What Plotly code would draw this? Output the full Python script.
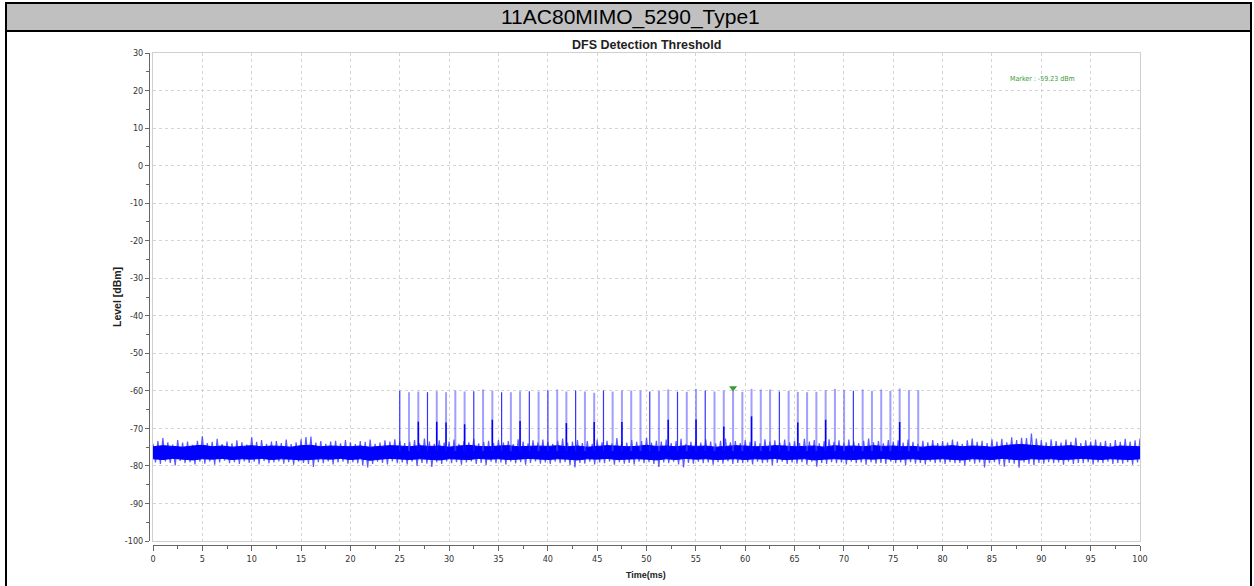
import numpy as np
import plotly.graph_objects as go

# ---------------- data ----------------
chart_title = "11AC80MIMO_5290_Type1"
plot_title = "DFS Detection Threshold"
x_title = "Time(ms)"
y_title = "Level [dBm]"
x_ticks = [0, 5, 10, 15, 20, 25, 30, 35, 40, 45, 50, 55, 60, 65, 70, 75, 80, 85, 90, 95, 100]
y_ticks = [30, 20, 10, 0, -10, -20, -30, -40, -50, -60, -70, -80, -90, -100]

# noise envelope, sampled every 0.5 ms from 0 to 100 ms
noise_hi = [
    -74.1, -73.4, -72.6, -73.7, -74.3, -73.1, -73.8, -73.5, -74.4, -73.3,
    -72.1, -73.9, -73.6, -72.8, -74.2, -73.5, -74.0, -73.2, -73.7, -74.3,
    -72.4, -73.6, -73.1, -74.1, -73.5, -73.4, -73.9, -73.0, -74.2, -73.7,
    -72.9, -72.3, -72.2, -73.8, -73.4, -74.1, -73.5, -73.3, -74.0, -73.1,
    -73.7, -74.2, -73.4, -73.6, -73.0, -74.1, -73.8, -73.2, -73.5, -72.9,
    -73.3, -73.9, -73.6, -73.1, -74.0, -72.7, -73.5, -74.1, -73.2, -73.8,
    -73.5, -73.0, -74.1, -73.4, -73.7, -72.8, -74.0, -73.6, -73.3, -73.9,
    -73.1, -73.8, -73.4, -74.2, -72.9, -73.5, -74.0, -73.2, -73.7, -73.0,
    -73.6, -74.1, -73.3, -72.7, -73.8, -73.5, -73.1, -73.9, -73.4, -74.1,
    -73.0, -73.7, -73.3, -74.0, -72.6, -73.5, -73.8, -73.1, -73.6, -73.4,
    -72.5, -73.8, -73.3, -73.5, -73.0, -73.9, -73.4, -72.8, -74.1, -73.6,
    -73.2, -73.8, -72.9, -73.5, -74.0, -73.3, -72.7, -73.7, -73.4, -73.9,
    -73.1, -73.6, -73.4, -74.0, -72.9, -73.5, -73.2, -73.8, -73.0, -73.7,
    -73.3, -73.9, -72.8, -73.5, -73.1, -74.0, -73.4, -72.9, -73.6, -73.2,
    -73.8, -73.0, -73.5, -73.9, -73.3, -72.7, -73.7, -73.4, -74.0, -73.1,
    -73.5, -73.2, -73.8, -73.0, -73.6, -74.1, -73.3, -73.7, -73.1, -73.9,
    -73.4, -73.8, -73.0, -73.5, -74.1, -73.2, -72.7, -73.6, -73.3, -73.9,
    -72.9, -73.5, -72.8, -73.7, -72.4, -73.1, -72.5, -72.6, -71.4, -72.7,
    -73.1, -73.7, -72.9, -73.4, -73.8, -73.0, -73.6, -72.5, -73.9, -73.2,
    -73.5, -73.0, -73.7, -73.3, -73.9, -73.1, -73.6, -72.8, -73.5, -73.2,
    -72.7,
]
noise_lo = [
    -79.1, -79.5, -78.8, -79.2, -79.9, -78.7, -79.3, -79.0, -79.6, -78.9,
    -79.4, -78.8, -79.7, -79.1, -78.6, -79.3, -79.0, -79.5, -78.8, -79.2,
    -78.9, -79.6, -78.7, -79.3, -79.1, -78.8, -79.4, -79.0, -79.7, -78.9,
    -79.2, -79.5, -80.3, -79.0, -79.3, -78.8, -79.6, -79.1, -78.9, -79.4,
    -79.0, -79.3, -79.9, -80.4, -79.5, -78.9, -79.2, -79.6, -78.8, -79.3,
    -79.1, -79.6, -78.9, -80.0, -79.2, -79.4, -80.3, -79.0, -79.5, -78.8,
    -79.3, -79.0, -79.7, -79.1, -78.8, -79.5, -79.2, -79.8, -78.9, -79.3,
    -79.1, -79.6, -78.9, -79.3, -79.0, -79.7, -79.2, -78.8, -79.4, -79.1,
    -79.5, -78.9, -79.3, -79.0, -79.8, -80.4, -79.2, -79.4, -78.9, -79.6,
    -79.1, -79.3, -78.8, -79.7, -79.0, -79.4, -79.2, -79.6, -78.9, -79.3,
    -79.0, -79.5, -80.3, -79.1, -79.3, -78.9, -79.6, -80.4, -79.2, -79.4,
    -78.9, -79.3, -79.1, -79.7, -79.0, -79.4, -78.8, -79.5, -79.2, -79.3,
    -79.0, -79.6, -78.9, -79.3, -79.1, -79.8, -79.2, -78.9, -79.5, -79.1,
    -79.4, -79.0, -79.7, -78.9, -80.2, -79.2, -79.5, -79.0, -79.3, -79.1,
    -79.6, -78.9, -79.3, -79.1, -79.7, -79.0, -79.4, -79.2, -79.5, -78.9,
    -79.3, -79.1, -79.8, -79.0, -79.4, -79.2, -79.6, -78.9, -79.3, -79.1,
    -79.5, -79.0, -79.3, -79.2, -79.9, -78.9, -79.4, -79.1, -80.4, -79.3,
    -79.0, -79.6, -80.2, -79.2, -79.4, -80.5, -79.1, -79.5, -79.8, -79.2,
    -79.4, -79.0, -79.3, -79.1, -79.7, -78.9, -79.5, -79.2, -79.3, -79.0,
    -79.6, -79.1, -79.3, -78.9, -79.5, -79.2, -79.4, -79.0, -79.7, -79.1,
    -79.3,
]
# dense noise core, sampled every 1 ms
core_hi = [
    -74.9, -74.6, -74.8, -75.0, -74.7, -74.5, -74.9, -74.7, -75.0, -74.8,
    -74.6, -74.9, -74.7, -74.8, -75.0, -74.6, -74.5, -74.9, -74.7, -74.8,
    -74.9, -74.7, -75.0, -74.8, -74.6, -74.7, -74.9, -74.6, -74.8, -74.7,
    -75.0, -74.7, -74.5, -74.8, -74.9, -74.7, -74.6, -74.9, -74.8, -74.7,
    -74.8, -74.6, -74.9, -74.7, -75.0, -74.8, -74.6, -74.7, -74.9, -74.8,
    -74.5, -74.8, -74.7, -74.9, -74.6, -74.8, -74.7, -75.0, -74.8, -74.6,
    -74.7, -74.9, -74.8, -74.6, -74.7, -74.9, -74.8, -74.7, -75.0, -74.6,
    -74.8, -74.7, -74.9, -74.6, -74.8, -74.7, -74.9, -74.8, -75.0, -74.7,
    -74.8, -74.6, -74.9, -74.7, -74.8, -75.0, -74.7, -74.4, -74.3, -74.6,
    -74.7, -74.9, -74.8, -74.6, -74.9, -74.7, -74.8, -75.0, -74.7, -74.8,
    -74.9,
]
core_lo = [
    -78.1, -78.3, -78.0, -78.2, -78.4, -78.1, -78.2, -78.0, -78.3, -78.1,
    -78.2, -78.0, -78.3, -78.1, -78.2, -78.4, -78.3, -78.1, -78.2, -78.0,
    -78.3, -78.1, -78.5, -78.2, -78.0, -78.2, -78.3, -78.1, -78.2, -78.4,
    -78.1, -78.2, -78.3, -78.0, -78.2, -78.1, -78.3, -78.2, -78.0, -78.2,
    -78.3, -78.1, -78.2, -78.4, -78.1, -78.2, -78.0, -78.3, -78.2, -78.1,
    -78.2, -78.4, -78.1, -78.3, -78.0, -78.2, -78.1, -78.3, -78.2, -78.1,
    -78.3, -78.1, -78.2, -78.0, -78.3, -78.2, -78.1, -78.4, -78.2, -78.1,
    -78.2, -78.3, -78.1, -78.2, -78.0, -78.3, -78.2, -78.1, -78.3, -78.2,
    -78.1, -78.2, -78.4, -78.1, -78.2, -78.3, -78.0, -78.2, -78.4, -78.1,
    -78.2, -78.1, -78.3, -78.2, -78.0, -78.2, -78.3, -78.1, -78.2, -78.3,
    -78.1,
]

# radar pulses (57 pulses)
pulse_t = [
    25.00, 25.94, 26.88, 27.81, 28.75, 29.69, 30.63, 31.57, 32.50, 33.44,
    34.38, 35.32, 36.26, 37.19, 38.13, 39.07, 40.01, 40.95, 41.88, 42.82,
    43.76, 44.70, 45.64, 46.57, 47.51, 48.45, 49.39, 50.33, 51.26, 52.20,
    53.14, 54.08, 55.02, 55.95, 56.89, 57.83, 58.77, 59.71, 60.64, 61.58,
    62.52, 63.46, 64.40, 65.33, 66.27, 67.21, 68.15, 69.09, 70.02, 70.96,
    71.90, 72.84, 73.78, 74.71, 75.65, 76.59, 77.53,
]
pulse_peak = [
    -60.00, -60.36, -60.18, -60.36, -60.09, -60.36, -59.91, -60.18, -60.09, -59.64,
    -59.91, -60.36, -60.36, -60.09, -60.09, -60.18, -59.91, -59.64, -60.18, -59.91,
    -60.18, -60.53, -59.91, -60.18, -59.91, -59.91, -59.91, -60.18, -60.05, -59.64,
    -60.22, -60.27, -59.47, -59.91, -60.18, -59.91, -59.23, -60.27, -59.47, -59.64,
    -59.64, -60.18, -60.00, -60.27, -60.36, -60.27, -59.82, -59.47, -59.82, -60.00,
    -59.64, -60.00, -59.64, -60.00, -59.38, -59.82, -59.82,
]
# level reached by the denser (darker) part of some pulses
pulse_mid = [
    None, None, -68.2, None, -68.2, -68.4, None, -68.9, None, None,
    -67.7, None, None, -68.0, None, None, None, None, -68.6, None,
    None, -68.3, None, None, -68.3, None, None, None, None, -67.7,
    None, None, -67.6, None, None, -69.5, None, None, -66.8, None,
    None, None, None, -68.4, None, None, -67.7, None, None, None,
    None, None, None, None, -68.3, None, None,
]
dark_pulses = [0, 3, 8, 11, 14, 16, 19, 22, 27, 30, 33, 41, 49]
marker_time = 58.77
marker_level = -59.23
marker_text = "Marker : -59.23 dBm"

# ---------------- geometry ----------------
W, H = 1254, 586
def px(x):
    return x / W
def py(y):
    return 1 - y / H

x_dom = [px(153), px(1140)]
y_dom = [py(541), py(53)]

fig = go.Figure()

# noise fringe (zig-zag between envelope extremes)
t_noise = np.arange(len(noise_hi)) * 0.5
zx, zy = [], []
for i, t in enumerate(t_noise):
    zx += [t, t + 0.25]
    zy += [noise_hi[i], noise_lo[i]]
fig.add_trace(go.Scatter(x=zx, y=zy, mode="lines",
                         line=dict(color="rgba(20,20,255,0.7)", width=1.2),
                         hoverinfo="skip", showlegend=False))

# noise core band
t_core = np.arange(len(core_hi)) * 1.0
fig.add_trace(go.Scatter(x=list(t_core) + list(t_core[::-1]),
                         y=core_hi + core_lo[::-1],
                         mode="lines", fill="toself", fillcolor="#0000ff",
                         line=dict(color="#0000ff", width=1),
                         hoverinfo="skip", showlegend=False))

# pulses
lx, ly, dx, dy, mx, my = [], [], [], [], [], []
for i, (t, p) in enumerate(zip(pulse_t, pulse_peak)):
    if i in dark_pulses:
        dx += [t, t, None]
        dy += [-76.0, p, None]
    else:
        lx += [t, t, None]
        ly += [-76.0, p, None]
    if pulse_mid[i] is not None:
        mx += [t, t, None]
        my += [-76.0, pulse_mid[i], None]
fig.add_trace(go.Scatter(x=lx, y=ly, mode="lines",
                         line=dict(color="rgba(80,80,255,0.55)", width=2),
                         hoverinfo="skip", showlegend=False))
fig.add_trace(go.Scatter(x=dx, y=dy, mode="lines",
                         line=dict(color="rgba(30,30,255,0.9)", width=1.2),
                         hoverinfo="skip", showlegend=False))
fig.add_trace(go.Scatter(x=mx, y=my, mode="lines",
                         line=dict(color="#0000ff", width=1.5),
                         hoverinfo="skip", showlegend=False))

# marker
fig.add_trace(go.Scatter(x=[marker_time], y=[marker_level], mode="markers",
                         marker=dict(symbol="triangle-down", size=7, color="#3a9a3a"),
                         hoverinfo="skip", showlegend=False))

# dummy trace on overlay axes so they render
fig.add_trace(go.Scatter(x=[None], y=[None], xaxis="x2", yaxis="y2",
                         showlegend=False, hoverinfo="skip"))

tick_font = dict(family="Liberation Sans Narrow, Arial Narrow, DejaVu Sans Condensed, sans-serif",
                 size=9, color="#333333")
grid = dict(showgrid=True, gridcolor="#d4d4d4", griddash="dot", gridwidth=1,
            showline=True, linecolor="#cfcfcf", linewidth=1, mirror=True,
            zeroline=False, showticklabels=False, ticks="", automargin=False)

fig.update_layout(
    width=W, height=H,
    margin=dict(l=0, r=0, t=0, b=0, autoexpand=False),
    paper_bgcolor="white", plot_bgcolor="white",
    xaxis=dict(domain=x_dom, range=[0, 100], tickvals=x_ticks, **grid),
    yaxis=dict(domain=y_dom, range=[-100, 30], tickvals=y_ticks, **grid),
    xaxis2=dict(overlaying="x", anchor="free", position=py(545), domain=x_dom,
                range=[0, 100], tickvals=x_ticks, ticktext=[str(v) for v in x_ticks],
                showgrid=False, zeroline=False, showline=True, linecolor="#666666",
                linewidth=1, ticks="outside", ticklen=5, tickcolor="#666666",
                minor=dict(ticks="outside", ticklen=3, dtick=2.5, tick0=0,
                           tickcolor="#666666", showgrid=False),
                tickfont=tick_font, automargin=False),
    yaxis2=dict(overlaying="y", anchor="free", position=px(149), side="left",
                range=[-100, 30], tickvals=y_ticks, ticktext=[str(v) for v in y_ticks],
                showgrid=False, zeroline=False, showline=True, linecolor="#666666",
                linewidth=1, ticks="outside", ticklen=4, tickcolor="#666666",
                minor=dict(ticks="outside", ticklen=3, dtick=5, tick0=0,
                           tickcolor="#666666", showgrid=False),
                tickfont=tick_font, automargin=False),
    hovermode=False,
)

shapes = [
    # title bar
    dict(type="rect", xref="paper", yref="paper", x0=px(6), x1=px(1251), y0=py(31), y1=py(3),
         fillcolor="#c0c0c0", line=dict(color="black", width=2), layer="below"),
    # outer frame
    dict(type="line", xref="paper", yref="paper", x0=px(6), x1=px(6), y0=py(3), y1=-0.01,
         line=dict(color="black", width=2)),
    dict(type="line", xref="paper", yref="paper", x0=px(1251), x1=px(1251), y0=py(3), y1=-0.01,
         line=dict(color="black", width=2)),
]
fig.update_layout(shapes=shapes)

annotations = [
    dict(text=chart_title, xref="paper", yref="paper", x=px(630), y=py(17),
         showarrow=False, font=dict(family="Liberation Sans, Arial, sans-serif", size=21, color="black"),
         xanchor="center", yanchor="middle"),
    dict(text="<b>" + plot_title + "</b>", xref="paper", yref="paper", x=px(646), y=py(45),
         showarrow=False, font=dict(family="Liberation Sans Narrow, Arial Narrow, Liberation Sans, sans-serif", size=12.5, color="#222222"),
         xanchor="center", yanchor="middle"),
    dict(text="<b>" + x_title + "</b>", xref="paper", yref="paper", x=px(646), y=py(575),
         showarrow=False, font=dict(family="Liberation Sans Narrow, Arial Narrow, Liberation Sans, sans-serif", size=9, color="#222222"),
         xanchor="center", yanchor="middle"),
    dict(text="<b>" + y_title + "</b>", xref="paper", yref="paper", x=px(117), y=py(297),
         showarrow=False, textangle=-90,
         font=dict(family="Liberation Sans Narrow, Arial Narrow, Liberation Sans, sans-serif", size=10.5, color="#222222"),
         xanchor="center", yanchor="middle"),
    dict(text=marker_text, xref="paper", yref="paper", x=px(1042), y=py(79),
         showarrow=False, font=dict(family="Liberation Sans Narrow, Arial Narrow, DejaVu Sans Condensed, sans-serif", size=7, color="#3a9a3a"),
         xanchor="center", yanchor="middle"),
]
fig.update_layout(annotations=annotations)

fig.write_html("out.html", config={"displayModeBar": False},
               post_script="document.body.style.margin='0';document.body.style.overflow='hidden';")
